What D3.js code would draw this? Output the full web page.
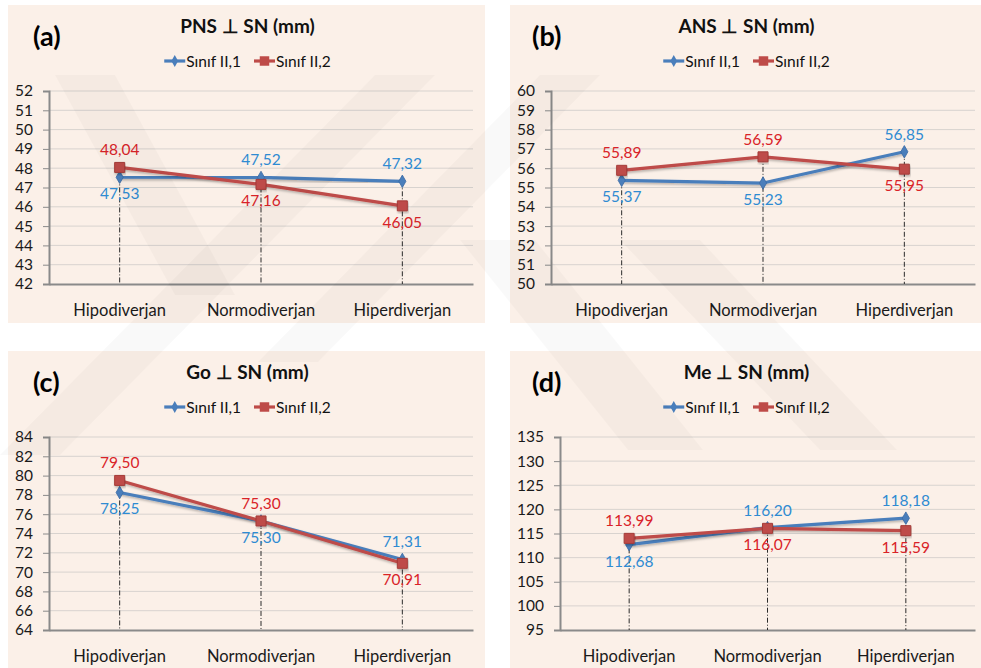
<!DOCTYPE html>
<html>
<head>
<meta charset="utf-8">
<script src="https://cdn.jsdelivr.net/npm/d3@7"></script>
<style>
  body { margin: 0; background: #ffffff; }
  svg { display: block; }
</style>
</head>
<body>
<svg id="chart" width="981" height="668"></svg>
<script>
// ---- data ----
const categories = ["Hipodiverjan", "Normodiverjan", "Hiperdiverjan"];
const seriesNames = ["Sınıf II,1", "Sınıf II,2"];
const panelLetters = ["(a)", "(b)", "(c)", "(d)"];
const panelTitles = ["PNS ⊥ SN (mm)", "ANS ⊥ SN (mm)", "Go ⊥ SN (mm)", "Me ⊥ SN (mm)"];

const pnsSinif1 = [47.53, 47.52, 47.32];
const pnsSinif2 = [48.04, 47.16, 46.05];
const ansSinif1 = [55.37, 55.23, 56.85];
const ansSinif2 = [55.89, 56.59, 55.95];
const goSinif1  = [78.25, 75.30, 71.31];
const goSinif2  = [79.50, 75.30, 70.91];
const meSinif1  = [112.68, 116.20, 118.18];
const meSinif2  = [113.99, 116.07, 115.59];

const pnsTicks = [42, 43, 44, 45, 46, 47, 48, 49, 50, 51, 52];
const ansTicks = [50, 51, 52, 53, 54, 55, 56, 57, 58, 59, 60];
const goTicks  = [64, 66, 68, 70, 72, 74, 76, 78, 80, 82, 84];
const meTicks  = [95, 100, 105, 110, 115, 120, 125, 130, 135];

// ---- layout & style ----
const FONT = "Lato, 'Open Sans', sans-serif";
const colors = { line: ["#4a7ebb", "#be4b48"], label: ["#2f8bd2", "#d92328"] };
const panelBg = "#fbf0e8";

const panels = [
  { x: 8,   y: 5,   w: 477, h: 318, left: 41, s1: pnsSinif1, s2: pnsSinif2, ticks: pnsTicks },
  { x: 510, y: 5,   w: 471, h: 318, left: 41, s1: ansSinif1, s2: ansSinif2, ticks: ansTicks },
  { x: 8,   y: 351, w: 477, h: 317, left: 41, s1: goSinif1,  s2: goSinif2,  ticks: goTicks },
  { x: 510, y: 351, w: 471, h: 317, left: 50, s1: meSinif1,  s2: meSinif2,  ticks: meTicks }
];

const locale = d3.formatLocale({ decimal: ",", thousands: ".", grouping: [3], currency: ["", ""] });
const fmt = locale.format(".2f");

const svg = d3.select("#chart");

// soft shadow under the series lines
const defs = svg.append("defs");
const shadow = defs.append("filter").attr("id", "lineShadow")
  .attr("x", "-10%").attr("y", "-30%").attr("width", "120%").attr("height", "160%");
shadow.append("feDropShadow").attr("dx", 0.8).attr("dy", 1.6)
  .attr("stdDeviation", 1).attr("flood-color", "#000").attr("flood-opacity", 0.28);

panels.forEach((p, i) => {
  const g = svg.append("g").attr("transform", `translate(${p.x},${p.y})`);

  g.append("rect").attr("width", p.w).attr("height", p.h).attr("fill", panelBg);

  const plotTop = 86, plotBottom = 279, plotRight = 465;

  const x = d3.scaleBand().domain(categories).range([p.left, plotRight]);
  const y = d3.scaleLinear()
    .domain([p.ticks[0], p.ticks[p.ticks.length - 1]])
    .range([plotBottom, plotTop]);

  // horizontal gridlines
  g.append("g").selectAll("line").data(p.ticks.slice(1)).join("line")
    .attr("x1", p.left).attr("x2", plotRight)
    .attr("y1", d => y(d)).attr("y2", d => y(d))
    .attr("stroke", "#d8d3cf").attr("stroke-width", 1);

  // y axis
  const yAxis = g.append("g").attr("transform", `translate(${p.left},0)`)
    .call(d3.axisLeft(y).tickValues(p.ticks).tickSize(6).tickPadding(10).tickFormat(d3.format("d")));
  yAxis.select(".domain").attr("stroke", "#8a8a8a").attr("stroke-width", 2);
  yAxis.selectAll(".tick line").attr("stroke", "#8a8a8a").attr("stroke-width", 1);
  yAxis.selectAll(".tick text")
    .attr("font-family", FONT).attr("font-size", 15.5).attr("fill", "#1a1a1a");

  // x axis
  const xAxis = g.append("g").attr("transform", `translate(0,${plotBottom})`)
    .call(d3.axisBottom(x).tickSize(0).tickPadding(20));
  xAxis.select(".domain").attr("stroke", "#8a8a8a").attr("stroke-width", 2);
  xAxis.selectAll(".tick text")
    .attr("font-family", FONT).attr("font-size", 16.5).attr("fill", "#1a1a1a");

  const cx = d => x(d) + x.bandwidth() / 2;
  const rows = categories.map((c, k) => ({ c, v1: p.s1[k], v2: p.s2[k] }));

  // drop lines from the highest point of each category
  g.append("g").selectAll("line").data(rows).join("line")
    .attr("x1", d => cx(d.c)).attr("x2", d => cx(d.c))
    .attr("y1", d => y(Math.max(d.v1, d.v2))).attr("y2", plotBottom)
    .attr("stroke", "#2a2a2a").attr("stroke-width", 1)
    .attr("stroke-dasharray", "5,2,1,2");

  // series lines
  const series = [p.s1, p.s2];
  series.forEach((vals, s) => {
    const line = d3.line().x((d, k) => cx(categories[k])).y(d => y(d));
    g.append("path").datum(vals)
      .attr("d", line).attr("fill", "none")
      .attr("stroke", colors.line[s]).attr("stroke-width", 3.2)
      .attr("stroke-linejoin", "round")
      .attr("filter", "url(#lineShadow)");
  });

  // markers
  g.append("g").selectAll("path").data(p.s1).join("path")
    .attr("transform", (d, k) => `translate(${cx(categories[k])},${y(d)})`)
    .attr("d", d3.symbol(d3.symbolDiamond, 45))
    .attr("fill", colors.line[0]).attr("stroke", "#3a6aa3").attr("stroke-width", 0.8);
  g.append("g").selectAll("path").data(p.s2).join("path")
    .attr("transform", (d, k) => `translate(${cx(categories[k])},${y(d)})`)
    .attr("d", d3.symbol(d3.symbolSquare, 100))
    .attr("fill", colors.line[1]).attr("stroke", "#a53c39").attr("stroke-width", 1)
    .attr("filter", "url(#lineShadow)");

  // value labels: the higher series above its point, the lower one below
  const labels = [];
  rows.forEach(r => {
    const redAbove = r.v2 >= r.v1;
    labels.push({ c: r.c, v: r.v1, s: 0, above: !redAbove });
    labels.push({ c: r.c, v: r.v2, s: 1, above: redAbove });
  });
  g.append("g").selectAll("text").data(labels).join("text")
    .attr("x", d => cx(d.c))
    .attr("y", d => y(d.v) + (d.above ? -12 : 22))
    .attr("text-anchor", "middle")
    .attr("font-family", FONT).attr("font-size", 15.5)
    .attr("fill", d => colors.label[d.s])
    .text(d => fmt(d.v));

  // panel letter and title
  g.append("text").attr("x", i % 2 === 0 ? 25 : 22).attr("y", 41)
    .attr("font-family", FONT).attr("font-weight", 700).attr("font-size", 27)
    .attr("fill", "#000").text(panelLetters[i]);
  g.append("text").attr("x", p.w / 2 + 1).attr("y", 28)
    .attr("text-anchor", "middle")
    .attr("font-family", FONT).attr("font-weight", 700).attr("font-size", 19)
    .attr("fill", "#111").text(panelTitles[i]);

  // legend
  const leg = g.append("g");
  const items = leg.selectAll("g").data(seriesNames).join("g");
  items.append("line").attr("x1", 0).attr("x2", 21).attr("y1", 0).attr("y2", 0)
    .attr("stroke", (d, s) => colors.line[s]).attr("stroke-width", 3.2);
  items.append("path").attr("transform", "translate(10.5,0)")
    .attr("d", (d, s) => d3.symbol(s === 0 ? d3.symbolDiamond : d3.symbolSquare, s === 0 ? 40 : 90)())
    .attr("fill", (d, s) => colors.line[s]);
  items.append("text").attr("x", 22).attr("y", 5.5)
    .attr("font-family", FONT).attr("font-size", 15.5).attr("fill", "#111")
    .text(d => d);
  let off = 0;
  items.each(function () {
    d3.select(this).attr("transform", `translate(${off},0)`);
    off += this.getBBox().width + 13;
  });
  const legW = off - 13;
  leg.attr("transform", `translate(${p.w / 2 + 1 - legW / 2},56)`);
});

// faint diagonal page watermark laid over the figure
const watermarkBands = [
  [[55, 75], [115, 75], [235, 295], [175, 295]],
  [[375, 75], [435, 75], [60, 455], [0, 455]],
  [[540, 75], [600, 75], [318, 362], [258, 362]],
  [[460, 240], [535, 240], [703, 450], [628, 450]],
  [[620, 240], [700, 240], [897, 450], [820, 450]]
];
svg.append("g").attr("pointer-events", "none")
  .selectAll("polygon").data(watermarkBands).join("polygon")
  .attr("points", d => d.map(pt => pt.join(",")).join(" "))
  .attr("fill", "#000").attr("fill-opacity", 0.022);
</script>
</body>
</html>
